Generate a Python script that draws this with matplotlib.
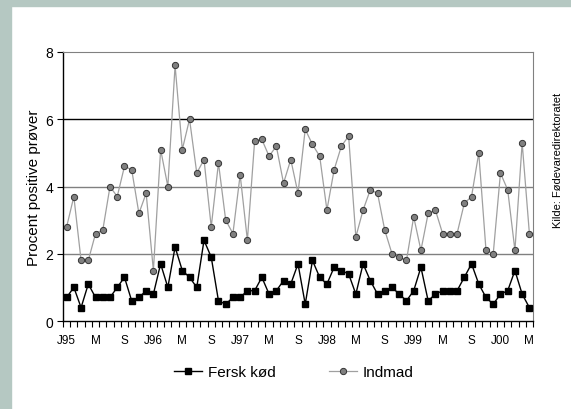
import numpy as np
import matplotlib.pyplot as plt
from matplotlib.patches import Rectangle

plt.rcParams['font.family'] = ['Liberation Sans', 'DejaVu Sans']

# Monthly values, Jan 1995 - May 2000
fersk_kod = [0.7, 1.0, 0.4, 1.1, 0.7, 0.7, 0.7, 1.0, 1.3, 0.6,
             0.7, 0.9, 0.8, 1.7, 1.0, 2.2, 1.5, 1.3, 1.0, 2.4,
             1.9, 0.6, 0.5, 0.7, 0.7, 0.9, 0.9, 1.3, 0.8, 0.9,
             1.2, 1.1, 1.7, 0.5, 1.8, 1.3, 1.1, 1.6, 1.5, 1.4,
             0.8, 1.7, 1.2, 0.8, 0.9, 1.0, 0.8, 0.6, 0.9, 1.6,
             0.6, 0.8, 0.9, 0.9, 0.9, 1.3, 1.7, 1.1, 0.7, 0.5,
             0.8, 0.9, 1.5, 0.8, 0.4]
indmad = [2.8, 3.7, 1.8, 1.8, 2.6, 2.7, 4.0, 3.7, 4.6, 4.5,
          3.2, 3.8, 1.5, 5.1, 4.0, 7.6, 5.1, 6.0, 4.4, 4.8,
          2.8, 4.7, 3.0, 2.6, 4.35, 2.4, 5.35, 5.4, 4.9, 5.2,
          4.1, 4.8, 3.8, 5.7, 5.25, 4.9, 3.3, 4.5, 5.2, 5.5,
          2.5, 3.3, 3.9, 3.8, 2.7, 2.0, 1.9, 1.8, 3.1, 2.1,
          3.2, 3.3, 2.6, 2.6, 2.6, 3.5, 3.7, 5.0, 2.1, 2.0,
          4.4, 3.9, 2.1, 5.3, 2.6]
month_labels = ['J95', 'M', 'S', 'J96', 'M', 'S', 'J97', 'M', 'S',
                'J98', 'M', 'S', 'J99', 'M', 'S', 'J00', 'M']

x = np.arange(len(fersk_kod))

fig = plt.figure(figsize=[5.71, 4.10], dpi=100)
# grey-green frame on top and left
fig.patches.append(Rectangle((0, 0), 11 / 571, 1, transform=fig.transFigure,
                             color='#b5c8c2', zorder=0))
fig.patches.append(Rectangle((0, 1 - 7 / 410), 1, 7 / 410, transform=fig.transFigure,
                             color='#b5c8c2', zorder=0))

ax = fig.add_axes([63 / 571, 1 - 322 / 410, 470 / 571, 269 / 410])

for yv, c in [(2, '#808080'), (4, '#808080'), (6, 'black')]:
    ax.axhline(yv, color=c, lw=1, zorder=1)

ax.plot(x, indmad, '-o', color='#a0a0a0', lw=0.9, ms=4.5, mfc='#808080',
        mec='#333333', mew=0.7, label='Indmad', zorder=3)
ax.plot(x, fersk_kod, '-s', color='black', lw=1, ms=5, mfc='black',
        mec='black', label='Fersk kød', zorder=4)

ax.set_xlim(-0.5, len(x) - 0.5)
ax.set_ylim(0, 8)
ax.set_yticks([0, 2, 4, 6, 8])
ax.set_xticks(x[::4])
ax.set_xticklabels(month_labels, fontsize=8.5)
ax.set_xticks(np.arange(len(x) + 1) - 0.5, minor=True)
ax.tick_params(axis='x', which='major', length=0, pad=9.5)
ax.tick_params(axis='x', which='minor', length=4, width=0.8, direction='out')
ax.tick_params(axis='y', length=4, width=0.8, labelsize=10, pad=3)

ax.spines['top'].set_color('#808080')
ax.spines['right'].set_color('#808080')
for s in ['left', 'bottom']:
    ax.spines[s].set_linewidth(1)

ax.set_ylabel('Procent positive prøver', fontsize=11, labelpad=3)

handles, labels = ax.get_legend_handles_labels()
fig.legend(handles[::-1], labels[::-1], loc='center', bbox_to_anchor=(294 / 571, 1 - 373 / 410),
           ncol=2, frameon=False, fontsize=11, handlelength=1.8, columnspacing=3.5,
           handletextpad=0.4)

fig.text(558 / 571, 1 - 160 / 410, 'Kilde: Fødevaredirektoratet', rotation=90,
         ha='center', va='center', fontsize=8)

plt.savefig('out.png', dpi=100, facecolor='w')
